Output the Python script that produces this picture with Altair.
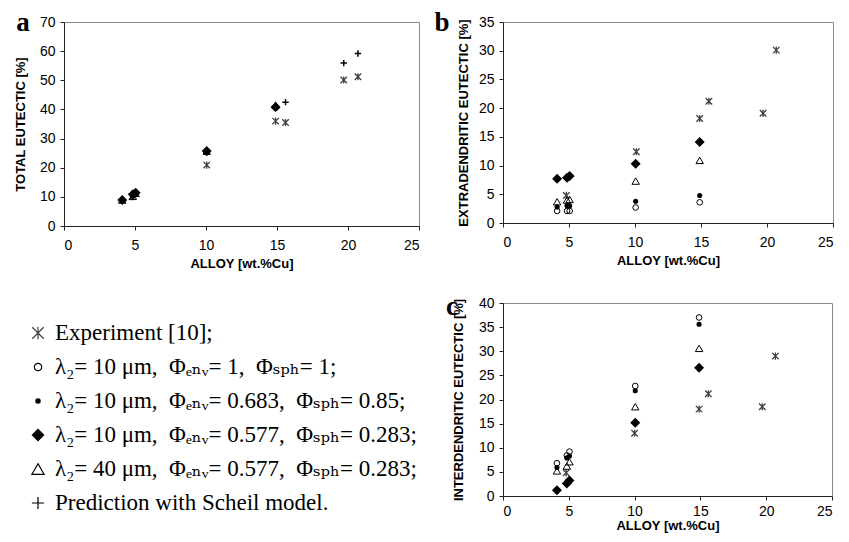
import altair as alt
import pandas as pd

# ---------------- data ----------------
X_TICKS = [0, 5, 10, 15, 20, 25]
MODEL_X = [4.1, 4.85, 5.05, 10.05, 14.9]

# Panel a: total eutectic [%]
a_exp_x = [4.8, 10.05, 14.9, 15.6, 19.7, 20.7]
a_exp_y = [10.0, 20.9, 36.0, 35.5, 50.1, 51.2]
a_open_circle = [8.9, 10.5, 11.3, 25.3, 40.6]
a_dot = [8.7, 10.9, 11.3, 25.6, 40.5]
a_diamond = [8.9, 10.9, 11.4, 25.7, 40.8]
a_triangle = [8.9, 10.2, 11.2, 25.7, 41.5]
a_scheil_x = [15.6, 19.7, 20.7]
a_scheil_y = [42.5, 55.9, 59.2]

# Panel b: extradendritic eutectic [%]
b_exp_x = [4.8, 10.1, 14.9, 15.6, 19.7, 20.7]
b_exp_y = [4.8, 12.4, 18.2, 21.2, 19.1, 30.1]
b_open_circle = [2.1, 2.1, 2.1, 2.7, 3.6]
b_dot = [2.8, 3.0, 3.0, 3.8, 4.8]
b_diamond = [7.7, 7.9, 8.2, 10.3, 14.1]
b_triangle = [3.7, 4.0, 4.1, 7.3, 10.9]

# Panel c: interdendritic eutectic [%]
c_exp_x = [4.8, 10.0, 14.9, 15.6, 19.7, 20.7]
c_exp_y = [4.8, 13.0, 18.0, 21.2, 18.5, 29.0]
c_open_circle = [6.8, 8.4, 9.2, 22.8, 37.0]
c_dot = [5.9, 7.9, 8.3, 21.8, 35.6]
c_diamond = [1.2, 2.6, 3.2, 15.2, 26.6]
c_triangle = [5.2, 6.2, 7.1, 18.5, 30.6]

SP = "\u00a0"
LEGEND_LABELS = [
    "Experiment [10];",
    f"\u03bb\u2082= 10 \u03bcm,{SP} \u03a6\u2091\u2099\u1d65= 1,{SP} \u03a6\u209b\u209a\u2095= 1;",
    f"\u03bb\u2082= 10 \u03bcm,{SP} \u03a6\u2091\u2099\u1d65= 0.683,{SP} \u03a6\u209b\u209a\u2095= 0.85;",
    f"\u03bb\u2082= 10 \u03bcm,{SP} \u03a6\u2091\u2099\u1d65= 0.577,{SP} \u03a6\u209b\u209a\u2095= 0.283;",
    f"\u03bb\u2082= 40 \u03bcm,{SP} \u03a6\u2091\u2099\u1d65= 0.577,{SP} \u03a6\u209b\u209a\u2095= 0.283;",
    "Prediction with Scheil model.",
]

# ---------------- styles ----------------
STAR = "M-1,-1L1,1M1,-1L-1,1M0,-1.1L0,1.1"
PLUS = "M-1,0L1,0M0,-1L0,1"
SANS = "Liberation Sans, Arial, sans-serif"
SERIF = "Liberation Serif, DejaVu Serif, serif"


def xy(ydomain, ystep, ytitle, title_pad_y, x_title_pad, x_label_pad):
    x = alt.X(
        "x:Q",
        scale=alt.Scale(domain=[0, 25], nice=False),
        axis=alt.Axis(values=X_TICKS, title="ALLOY [wt.%Cu]", titlePadding=x_title_pad,
                      labelPadding=x_label_pad),
    )
    y = alt.Y(
        "y:Q",
        scale=alt.Scale(domain=ydomain, nice=False),
        axis=alt.Axis(values=list(range(ydomain[0], ydomain[1] + 1, ystep)), title=ytitle,
                      titlePadding=title_pad_y, labelPadding=5),
    )
    return x, y


def df(xs, ys):
    return pd.DataFrame({"x": xs, "y": ys})


def panel(exp_x, exp_y, oc, dot, dia, tri, sx, sy, ydomain, ystep, ytitle, letter,
          lx, ly, w, h, tpy, xtp, xlp):
    x, y = xy(ydomain, ystep, ytitle, tpy, xtp, xlp)
    layers = [
        alt.Chart(df(exp_x, exp_y)).mark_point(shape=STAR, filled=False, stroke="#404040",
                                               strokeWidth=1.3, size=42, opacity=1).encode(x=x, y=y),
        alt.Chart(df(MODEL_X, tri)).mark_point(shape="triangle-up", filled=False, stroke="black",
                                               strokeWidth=1, size=55, opacity=1).encode(x=x, y=y),
        alt.Chart(df(MODEL_X, oc)).mark_point(shape="circle", filled=False, stroke="black",
                                              strokeWidth=1, size=32, opacity=1).encode(x=x, y=y),
        alt.Chart(df(MODEL_X, dot)).mark_point(shape="circle", filled=True, fill="black",
                                               size=26, opacity=1).encode(x=x, y=y),
        alt.Chart(df(MODEL_X, dia)).mark_point(shape="diamond", filled=True, fill="black",
                                               size=100, opacity=1).encode(x=x, y=y),
    ]
    if sx:
        layers.append(
            alt.Chart(df(sx, sy)).mark_point(shape=PLUS, filled=False, stroke="black",
                                             strokeWidth=1.5, size=40, opacity=1).encode(x=x, y=y)
        )
    layers.append(
        alt.Chart(pd.DataFrame({"t": [letter]})).mark_text(
            font=SERIF, fontWeight="bold", fontSize=27, align="center", baseline="alphabetic",
            color="black",
        ).encode(x=alt.value(lx), y=alt.value(ly), text="t:N")
    )
    return alt.layer(*layers).properties(width=w, height=h)


pa = panel(a_exp_x, a_exp_y, a_open_circle, a_dot, a_diamond, a_triangle,
           a_scheil_x, a_scheil_y, [0, 70], 10, "TOTAL EUTECTIC [%]", "a",
           -41, 9, 355, 204, 12, 5, 8)
pb = panel(b_exp_x, b_exp_y, b_open_circle, b_dot, b_diamond, b_triangle,
           [], [], [0, 35], 5, "EXTRADENDRITIC EUTECTIC [%]", "b",
           -61, 9, 330, 201, 8, 5, 8)
pc = panel(c_exp_x, c_exp_y, c_open_circle, c_dot, c_diamond, c_triangle,
           [], [], [0, 40], 5, "INTERDENDRITIC EUTECTIC [%]", "c",
           -51, 12, 329, 193, 13, 1, 4)

# ---------------- legend block ----------------
KEYS = ["exp", "oc", "dot", "dia", "tri", "plus"]
leg = pd.DataFrame({"row": list(range(6)), "label": LEGEND_LABELS, "key": KEYS})
ly = alt.Y("row:O", axis=None, scale=alt.Scale(padding=0.5))
sym_style = {
    "exp": dict(shape=STAR, filled=False, stroke="#404040", strokeWidth=1.2, size=130),
    "oc": dict(shape="circle", filled=False, stroke="black", strokeWidth=1.2, size=55),
    "dot": dict(shape="circle", filled=True, fill="black", size=30),
    "dia": dict(shape="diamond", filled=True, fill="black", size=170),
    "tri": dict(shape="triangle-up", filled=False, stroke="black", strokeWidth=1.2, size=150),
    "plus": dict(shape=PLUS, filled=False, stroke="black", strokeWidth=1.2, size=150),
}
leg_layers = []
for k in KEYS:
    leg_layers.append(
        alt.Chart(leg).transform_filter(alt.datum.key == k)
        .mark_point(opacity=1, **sym_style[k])
        .encode(x=alt.value(-26), y=ly)
    )
leg_layers.append(
    alt.Chart(leg).mark_text(font=SERIF, fontSize=23, align="left", baseline="middle",
                             color="black")
    .encode(x=alt.value(-9), y=ly, text="label:N")
)
legend_block = alt.layer(*leg_layers).properties(
    width=340, height=204, view=alt.ViewBackground(stroke="transparent")
)

chart = alt.hconcat(
    alt.vconcat(pa, legend_block, spacing=44),
    alt.vconcat(pb, pc, spacing=24),
    spacing=13,
).properties(
    padding={"left": 5, "top": 0, "right": 0, "bottom": 0},
    background="white",
).configure_view(
    stroke="#8a8a8a", strokeWidth=1
).configure_axis(
    labelFont=SANS, labelFontSize=14, labelColor="black",
    titleFont=SANS, titleFontSize=13, titleFontWeight="bold", titleColor="black",
    domainColor="#222222", tickColor="#222222", tickSize=4, grid=False,
)

chart.save("out.html", embed_options={"renderer": "svg", "actions": False})
